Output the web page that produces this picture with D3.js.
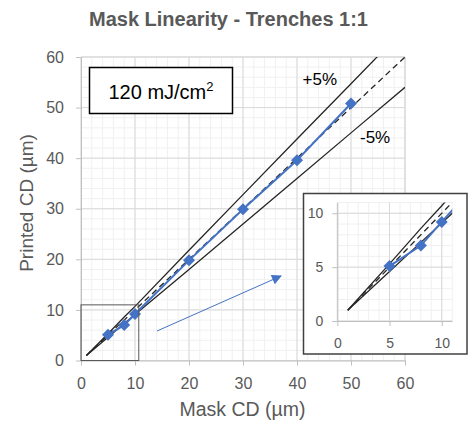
<!DOCTYPE html>
<html><head><meta charset="utf-8">
<script src="https://cdn.jsdelivr.net/npm/d3@7"></script>
<style>body{margin:0;background:#fff} svg{display:block;font-family:"Liberation Sans",Arial,sans-serif}</style>
</head><body>
<svg id="c" width="469" height="423"></svg>
<script>
// ---- data ----
const maskCD    = [5, 8, 10, 20, 30, 40, 50];
const printedCD = [5.1, 7.0, 9.2, 19.8, 29.9, 39.6, 50.8];
const idealX = [1, 60];
const idealY = [1, 60];
const upperX = [1, 5, 8, 10, 20, 30, 40, 50, 55];
const upperY = [1, 5.3, 8.6, 10.7, 21.8, 32.8, 43.8, 54.7, 60.2];
const lowerX = [1, 5, 8, 10, 20, 30, 40, 50, 60];
const lowerY = [1, 4.6, 7.3, 9.1, 18.0, 27.0, 36.0, 45.0, 54.0];
const mainTicks  = [0, 10, 20, 30, 40, 50, 60];
const insetTicks = [0, 5, 10];
const zoomBoxX = [0, 10.7];
const zoomBoxY = [0, 11];
const title = "Mask Linearity - Trenches 1:1";
const xTitle = "Mask CD (µm)";
const yTitle = "Printed CD (µm)";

const svg = d3.select("#c");
const BLUE = "#4472c4", DARK = "#262626", TXT = "#595959";

const zip = (a, b) => a.map((v, i) => [v, b[i]]);

function panel(g, x, y, opt) {
  const [x0, x1] = x.range(), [y0, y1] = y.range();
  const id = opt.id;
  g.append("clipPath").attr("id", id).append("rect")
    .attr("x", x0).attr("y", y1).attr("width", x1 - x0).attr("height", y0 - y1);
  const dom = x.domain()[1], domY = y.domain()[1];
  const minor = d3.range(0, dom + 1e-9, opt.minor);
  const minorY = d3.range(0, domY + 1e-9, opt.minor);
  g.append("g").selectAll("line").data(minor).join("line")
    .attr("x1", d => x(d)).attr("x2", d => x(d)).attr("y1", y0).attr("y2", y1)
    .attr("stroke", "#f0f0f0").attr("stroke-width", 1);
  g.append("g").selectAll("line").data(minorY).join("line")
    .attr("y1", d => y(d)).attr("y2", d => y(d)).attr("x1", x0).attr("x2", x1)
    .attr("stroke", "#f0f0f0").attr("stroke-width", 1);
  g.append("g").selectAll("line").data(opt.ticks).join("line")
    .attr("x1", d => x(d)).attr("x2", d => x(d)).attr("y1", y0).attr("y2", y1)
    .attr("stroke", "#d9d9d9").attr("stroke-width", 1);
  g.append("g").selectAll("line").data(opt.ticks).join("line")
    .attr("y1", d => y(d)).attr("y2", d => y(d)).attr("x1", x0).attr("x2", x1)
    .attr("stroke", "#d9d9d9").attr("stroke-width", 1);
  if (opt.extraGrid) {
    g.append("line").attr("x1", x1).attr("x2", x1).attr("y1", y0).attr("y2", y1)
      .attr("stroke", "#d9d9d9");
    g.append("line").attr("x1", x0).attr("x2", x1).attr("y1", y1).attr("y2", y1)
      .attr("stroke", "#d9d9d9");
  }
  const ax = g.append("g").attr("transform", `translate(0,${y0})`)
    .call(d3.axisBottom(x).tickValues(opt.ticks).tickSize(5).tickPadding(opt.padX).tickSizeOuter(0));
  const ay = g.append("g").attr("transform", `translate(${x0},0)`)
    .call(d3.axisLeft(y).tickValues(opt.ticks).tickSize(5).tickPadding(opt.padY).tickSizeOuter(0));
  [ax, ay].forEach(a => {
    a.select(".domain").attr("stroke", "#bfbfbf");
    a.selectAll(".tick line").attr("stroke", "#bfbfbf");
    a.selectAll("text").attr("fill", TXT).style("font-size", opt.fs + "px")
      .style("font-family", '"Liberation Sans",Arial,sans-serif');
  });
  const line = d3.line().x(d => x(d[0])).y(d => y(d[1]));
  const lg = g.append("g").attr("clip-path", `url(#${id})`);
  lg.append("path").attr("d", line(zip(upperX, upperY))).attr("fill", "none")
    .attr("stroke", DARK).attr("stroke-width", 1.3);
  lg.append("path").attr("d", line(zip(lowerX, lowerY))).attr("fill", "none")
    .attr("stroke", DARK).attr("stroke-width", 1.3);
  lg.append("path").attr("d", line(zip(idealX, idealY))).attr("fill", "none")
    .attr("stroke", DARK).attr("stroke-width", 1.3).attr("stroke-dasharray", "6,4");
  lg.append("path").attr("d", line(zip(maskCD, printedCD))).attr("fill", "none")
    .attr("stroke", BLUE).attr("stroke-width", 2);
  lg.append("g").selectAll("rect").data(zip(maskCD, printedCD)).join("rect")
    .attr("x", -opt.ms / 2).attr("y", -opt.ms / 2).attr("width", opt.ms).attr("height", opt.ms)
    .attr("fill", BLUE)
    .attr("transform", d => `translate(${x(d[0])},${y(d[1])}) rotate(45)`);
}

// ---- main chart ----
const xM = d3.scaleLinear().domain([0, 60]).range([81, 405]);
const yM = d3.scaleLinear().domain([0, 60]).range([360.5, 57]);
const gM = svg.append("g");
panel(gM, xM, yM, {id: "clipM", ticks: mainTicks, minor: 2, padX: 12, padY: 12, fs: 16, ms: 8.5, extraGrid: true});

gM.append("rect")
  .attr("x", xM(zoomBoxX[0])).attr("y", yM(zoomBoxY[1]))
  .attr("width", xM(zoomBoxX[1]) - xM(zoomBoxX[0]))
  .attr("height", yM(zoomBoxY[0]) - yM(zoomBoxY[1]))
  .attr("fill", "none").attr("stroke", "#595959").attr("stroke-width", 1);

svg.append("defs").append("marker").attr("id", "arr")
  .attr("viewBox", "0 0 10 10").attr("refX", 9).attr("refY", 5)
  .attr("markerWidth", 12).attr("markerHeight", 10).attr("markerUnits", "userSpaceOnUse")
  .attr("orient", "auto")
  .append("path").attr("d", "M0,0L10,5L0,10Z").attr("fill", BLUE);
svg.append("line").attr("x1", 157).attr("y1", 331).attr("x2", 281).attr("y2", 276)
  .attr("stroke", BLUE).attr("stroke-width", 1).attr("marker-end", "url(#arr)");

svg.append("text").attr("x", 228.5).attr("y", 26).attr("text-anchor", "middle")
  .attr("fill", TXT).style("font-size", "20px").style("font-weight", "bold").text(title);
svg.append("text").attr("x", 242.5).attr("y", 416).attr("text-anchor", "middle")
  .attr("fill", TXT).style("font-size", "19.5px").text(xTitle);
svg.append("text").attr("transform", "translate(33,203) rotate(-90)").attr("text-anchor", "middle")
  .attr("fill", TXT).style("font-size", "19px").text(yTitle);

svg.append("rect").attr("x", 89.5).attr("y", 67.5).attr("width", 143).attr("height", 46)
  .attr("fill", "#fff").attr("stroke", "#000").attr("stroke-width", 1.5);
const lt = svg.append("text").attr("x", 161).attr("y", 98.5).attr("text-anchor", "middle")
  .attr("fill", "#000").style("font-size", "20px");
lt.append("tspan").text("120 mJ/cm");
lt.append("tspan").attr("dy", -8).style("font-size", "13px").text("2");

svg.append("text").attr("x", 302.5).attr("y", 85).attr("fill", "#000")
  .style("font-size", "17px").text("+5%");
svg.append("text").attr("x", 360).attr("y", 142.5).attr("fill", "#000")
  .style("font-size", "17px").text("-5%");

// ---- inset ----
svg.append("rect").attr("x", 303.5).attr("y", 193.5).attr("width", 163.5).attr("height", 160.5)
  .attr("fill", "#fff").attr("stroke", "#404040").attr("stroke-width", 1.5);
const xI = d3.scaleLinear().domain([0, 11]).range([337.3, 452.2]);
const yI = d3.scaleLinear().domain([0, 11]).range([321, 202.5]);
const gI = svg.append("g");
panel(gI, xI, yI, {id: "clipI", ticks: insetTicks, minor: 1, padX: 12, padY: 9, fs: 14, ms: 8.5, extraGrid: false});
</script>
</body></html>
